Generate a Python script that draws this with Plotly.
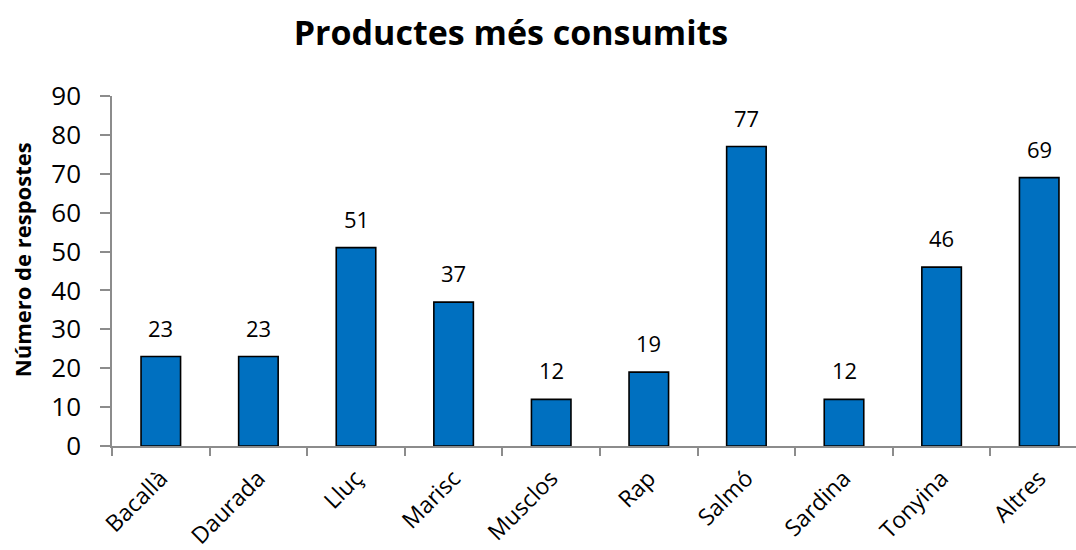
import plotly.graph_objects as go

categories = ["Bacallà", "Daurada", "Lluç", "Marisc", "Musclos", "Rap",
              "Salmó", "Sardina", "Tonyina", "Altres"]
values = [23, 23, 51, 37, 12, 19, 77, 12, 46, 69]
y_ticks = [0, 10, 20, 30, 40, 50, 60, 70, 80, 90]

FONT = "Open Sans"
AXIS_GREY = "#8c8c8c"

fig = go.Figure()
fig.add_trace(go.Bar(
    x=categories,
    y=values,
    marker=dict(color="#0070C0", line=dict(color="#000000", width=1.6)),
    width=0.405,
    hoverinfo="x+y",
))

# value labels above each bar
for c, v in zip(categories, values):
    fig.add_annotation(
        x=c, y=v, text=str(v), showarrow=False,
        xref="x", yref="y", yanchor="bottom", yshift=12,
        font=dict(family=FONT, size=22, color="#000000"),
    )

# vertical axis title
fig.add_annotation(
    text="<b>Número de respostes</b>", textangle=-90, showarrow=False,
    xref="paper", yref="paper", x=-90 / 964, y=0.531,
    xanchor="center", yanchor="middle",
    font=dict(family=FONT, size=22, color="#000000"),
)

fig.update_layout(
    width=1076, height=550,
    margin=dict(l=112, r=0, t=96, b=104),
    paper_bgcolor="white", plot_bgcolor="white",
    showlegend=False,
    title=dict(
        text="<b>Productes més consumits</b>",
        x=511 / 1076, xref="container", xanchor="center",
        y=1 - 33 / 550, yref="container", yanchor="middle",
        font=dict(family=FONT, size=34, color="#000000"),
    ),
    xaxis=dict(
        range=[-0.5, 9.377], automargin=False,
        showline=True, linecolor=AXIS_GREY, linewidth=1.5,
        ticks="outside", tickson="boundaries", ticklen=8,
        tickcolor=AXIS_GREY, tickwidth=1.5,
        tickangle=-45, ticklabelstandoff=8,
        tickfont=dict(family=FONT, size=23, color="#000000"),
        showgrid=False, zeroline=False,
    ),
    yaxis=dict(
        range=[0, 90], automargin=False,
        tickvals=y_ticks,
        showline=True, linecolor=AXIS_GREY, linewidth=1.5,
        ticks="outside", ticklen=10, tickcolor=AXIS_GREY, tickwidth=1.5,
        ticklabelstandoff=14,
        tickfont=dict(family=FONT, size=26, color="#000000"),
        showgrid=False, zeroline=False,
    ),
)

fig.write_html("out.html")
